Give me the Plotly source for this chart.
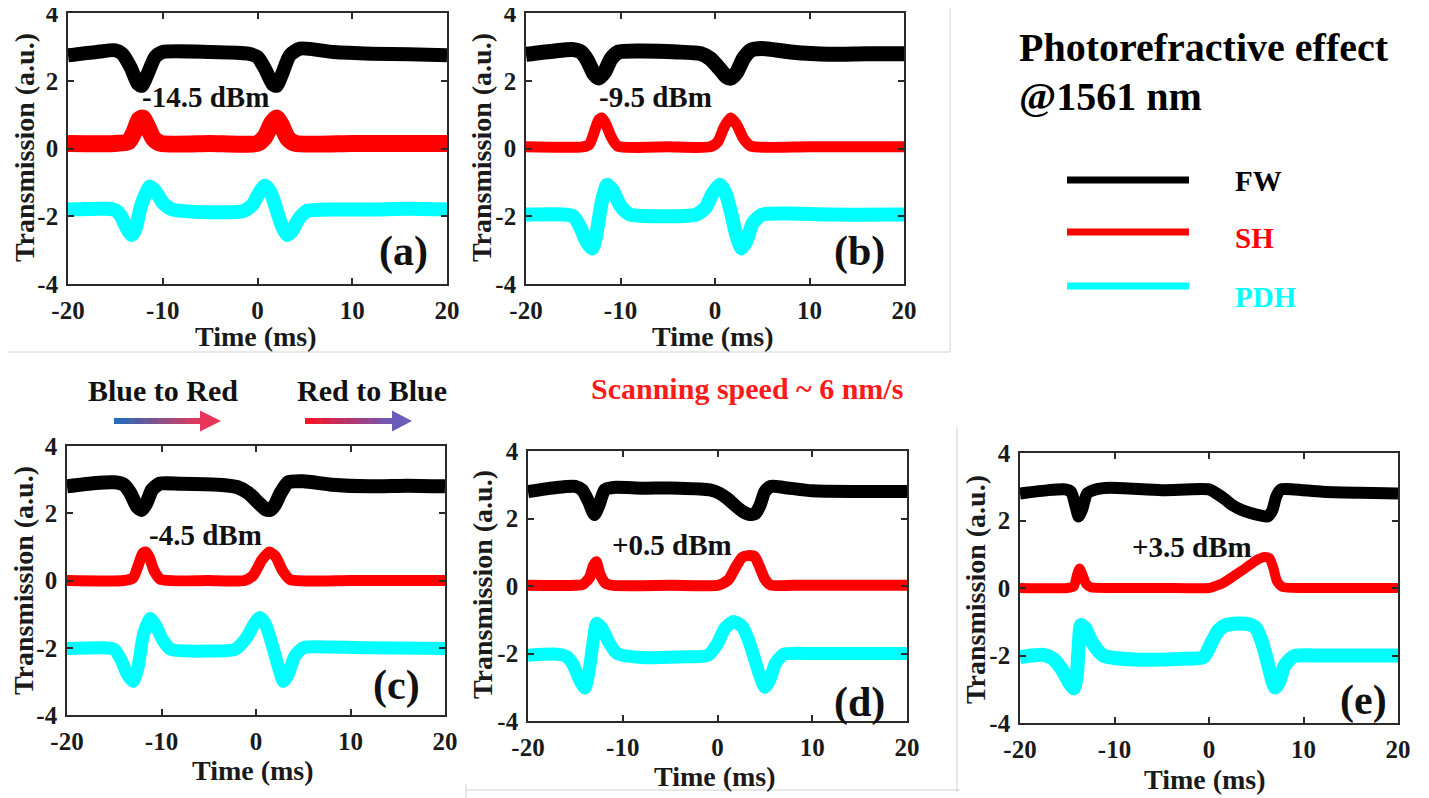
import plotly.graph_objects as go

W, H = 1429, 798
OX, OY = 8, 8   # page body offset of the html page

# ---------------- data ----------------
X_TICKS = [-20, -10, 0, 10, 20]
X_TICKTEXT = ["-20", "-10", "0", "10", "20"]
Y_TICKS = [-4, -2, 0, 2, 4]
Y_TICKTEXT = ["-4", "-2", "0", "2", "4"]

POWER_LABELS = ["-14.5 dBm", "-9.5 dBm", "-4.5 dBm", "+0.5 dBm", "+3.5 dBm"]
PANEL_LABELS = ["(a)", "(b)", "(c)", "(d)", "(e)"]
SERIES_NAMES = ["FW", "SH", "PDH"]

# panel (a)
FW_a_t = [-20, -17, -15, -14.3, -13.4, -12.6, -12.2, -11.6, -10.8, -10, -5, -1, 0, 0.8, 1.6, 2.0, 2.6, 3.4, 4.5, 8, 12, 16, 20]
FW_a_y = [2.75, 2.85, 2.9, 2.8, 2.4, 1.9, 1.85, 2.2, 2.7, 2.85, 2.85, 2.8, 2.7, 2.35, 1.9, 1.85, 2.2, 2.75, 2.95, 2.85, 2.8, 2.78, 2.75]
SH_a_t = [-20, -15, -13.6, -13, -12.5, -12.1, -11.6, -11, -10.2, -5, 0, 0.8, 1.5, 2.0, 2.5, 3.2, 4, 10, 15, 20]
SH_a_y = [0.15, 0.15, 0.2, 0.5, 0.85, 0.9, 0.65, 0.3, 0.15, 0.15, 0.15, 0.35, 0.75, 0.9, 0.7, 0.3, 0.15, 0.15, 0.15, 0.15]
PDH_a_t = [-20, -16, -15, -14.4, -13.8, -13.3, -12.9, -12.3, -11.4, -10.8, -10, -9, -5, -1.5, -0.5, 0.2, 0.8, 1.4, 2.0, 2.6, 3.1, 3.6, 4.3, 5.2, 8, 12, 16, 20]
PDH_a_y = [-1.8, -1.78, -1.82, -2.0, -2.35, -2.55, -2.4, -1.7, -1.12, -1.25, -1.6, -1.8, -1.88, -1.85, -1.65, -1.3, -1.1, -1.3, -1.8, -2.3, -2.55, -2.45, -2.1, -1.85, -1.8, -1.8, -1.78, -1.8]

# panel (b)
FW_b_t = [-20, -17, -15, -14.2, -13.5, -12.8, -12.3, -11.7, -11, -10.2, -8, -4, -1.5, -0.5, 0.5, 1.2, 1.7, 2.3, 3.0, 3.8, 5, 8, 12, 16, 20]
FW_b_y = [2.78, 2.88, 2.92, 2.85, 2.6, 2.2, 2.08, 2.25, 2.65, 2.85, 2.88, 2.85, 2.8, 2.65, 2.35, 2.12, 2.08, 2.25, 2.65, 2.9, 2.95, 2.85, 2.78, 2.8, 2.8]
SH_b_t = [-20, -14, -13.3, -12.7, -12.3, -12.0, -11.6, -11, -10.3, -5, -0.5, 0.3, 1.0, 1.65, 2.3, 3.0, 3.8, 10, 20]
SH_b_y = [0.05, 0.05, 0.12, 0.55, 0.85, 0.9, 0.75, 0.35, 0.07, 0.05, 0.05, 0.2, 0.65, 0.9, 0.7, 0.3, 0.07, 0.05, 0.05]
PDH_b_t = [-20, -16, -15, -14.3, -13.6, -13.0, -12.6, -12.0, -11.4, -10.8, -10, -9, -5, -2, -1, -0.3, 0.5, 1.1, 1.7, 2.3, 2.8, 3.3, 4.0, 5, 8, 12, 20]
PDH_b_y = [-1.95, -1.95, -2.0, -2.3, -2.75, -2.95, -2.6, -1.6, -1.07, -1.25, -1.7, -1.95, -2.0, -1.95, -1.75, -1.35, -1.07, -1.3, -1.9, -2.6, -2.95, -2.75, -2.2, -1.95, -1.92, -1.95, -1.95]

# panel (c)
FW_c_t = [-20, -17, -15, -14, -13.3, -12.6, -12.1, -11.6, -11, -10.2, -8, -4, -2, -0.8, 0.3, 1.0, 1.5, 2.0, 2.6, 3.4, 5, 8, 12, 16, 20]
FW_c_y = [2.8, 2.9, 2.92, 2.85, 2.6, 2.2, 2.1, 2.3, 2.7, 2.88, 2.88, 2.85, 2.78, 2.6, 2.3, 2.12, 2.1, 2.25, 2.6, 2.92, 2.95, 2.85, 2.8, 2.82, 2.8]
SH_c_t = [-20, -14, -13.0, -12.4, -12.0, -11.7, -11.3, -10.8, -10.1, -5, -1.2, -0.3, 0.6, 1.4, 2.1, 2.8, 3.6, 10, 20]
SH_c_y = [0.0, 0.0, 0.08, 0.5, 0.8, 0.85, 0.7, 0.3, 0.03, 0.0, 0.0, 0.15, 0.6, 0.85, 0.7, 0.3, 0.03, 0.0, 0.0]
PDH_c_t = [-20, -16, -15, -14.3, -13.6, -13.0, -12.5, -11.9, -11.2, -10.6, -9.8, -9, -5, -2.2, -1.0, -0.2, 0.4, 1.0, 1.7, 2.4, 2.9, 3.4, 4.1, 5, 8, 12, 20]
PDH_c_y = [-2.02, -2.0, -2.05, -2.35, -2.8, -3.0, -2.6, -1.6, -1.13, -1.35, -1.8, -2.05, -2.1, -2.05, -1.7, -1.3, -1.1, -1.3, -1.9, -2.6, -3.0, -2.8, -2.25, -2.0, -1.98, -2.0, -2.02]

# panel (d)
FW_d_t = [-20, -17, -15, -14.3, -13.6, -13.0, -12.5, -11.9, -11, -8, -4, -0.8, 0.2, 1.0, 1.8, 2.6, 3.4, 4.0, 4.5, 5.0, 5.6, 7, 10, 15, 20]
FW_d_y = [2.8, 2.92, 2.95, 2.85, 2.5, 2.12, 2.4, 2.85, 2.92, 2.9, 2.9, 2.85, 2.75, 2.6, 2.4, 2.22, 2.12, 2.15, 2.4, 2.8, 2.95, 2.92, 2.82, 2.8, 2.8]
SH_d_t = [-20, -15, -14.2, -13.5, -13.1, -12.8, -12.4, -11.8, -11, -5, 0, 0.6, 1.2, 1.9, 2.6, 3.2, 3.9, 4.4, 5.0, 5.6, 8, 15, 20]
SH_d_y = [0.02, 0.02, 0.05, 0.25, 0.6, 0.72, 0.35, 0.08, 0.02, 0.02, 0.02, 0.08, 0.2, 0.55, 0.85, 0.9, 0.88, 0.6, 0.2, 0.03, 0.02, 0.02, 0.02]
PDH_d_t = [-20, -17, -16, -15.3, -14.6, -14.0, -13.6, -13.1, -12.75, -12.2, -11.5, -10.6, -8, -4, -1.0, 0, 0.8, 1.7, 2.6, 3.2, 3.8, 4.4, 5.0, 5.5, 6.1, 7, 10, 15, 20]
PDH_d_y = [-2.05, -2.02, -2.08, -2.3, -2.75, -3.02, -2.6, -1.6, -1.1, -1.25, -1.65, -2.0, -2.12, -2.1, -2.05, -1.7, -1.25, -1.05, -1.2, -1.55, -2.05, -2.6, -3.0, -2.8, -2.3, -2.02, -2.0, -2.0, -2.0]

# panel (e)
FW_e_t = [-20, -17, -15.2, -14.6, -14.1, -13.8, -13.4, -12.9, -12, -10.5, -5, 0, 0.8, 1.6, 2.5, 3.4, 4.4, 5.4, 6.2, 6.7, 7.1, 7.6, 9, 12, 16, 20]
FW_e_y = [2.8, 2.9, 2.92, 2.85, 2.4, 2.12, 2.35, 2.8, 2.92, 2.97, 2.9, 2.92, 2.8, 2.65, 2.45, 2.32, 2.22, 2.15, 2.12, 2.3, 2.7, 2.92, 2.92, 2.85, 2.82, 2.8]
SH_e_t = [-20, -15, -14.3, -14.0, -13.7, -13.4, -13.0, -12.5, -10, -5, 0, 0.6, 1.5, 2.6, 3.5, 4.4, 5.2, 5.9, 6.4, 6.8, 7.2, 7.8, 10, 15, 20]
SH_e_y = [0.0, 0.0, 0.05, 0.35, 0.58, 0.4, 0.12, 0.02, 0.0, 0.0, 0.0, 0.05, 0.15, 0.35, 0.52, 0.7, 0.85, 0.92, 0.88, 0.6, 0.2, 0.03, 0.0, 0.0, 0.0]
PDH_e_t = [-20, -17.5, -16.5, -15.6, -14.8, -14.3, -14.0, -13.8, -13.55, -13.1, -12.4, -11.2, -8, -3, -0.6, 0.3, 1.0, 1.8, 3.0, 4.3, 5.0, 5.6, 6.2, 6.7, 7.0, 7.4, 8.0, 9, 12, 16, 20]
PDH_e_y = [-2.05, -1.98, -2.1, -2.4, -2.8, -2.97, -2.6, -1.8, -1.1, -1.2, -1.6, -2.0, -2.12, -2.1, -2.05, -1.6, -1.25, -1.1, -1.05, -1.08, -1.2, -1.6, -2.2, -2.75, -2.95, -2.8, -2.3, -2.02, -2.0, -2.0, -2.0]

# ---------------- styles / layout ----------------
FONT = "Liberation Serif"
COLORS = {"FW": "#000000", "SH": "#ff0000", "PDH": "#00ffff"}


def P(x):
    return (x - OX) / W


def Q(y):
    return 1 - (y - OY) / H


panels = [
    dict(box=(68, 447, 13, 284), series=[(FW_a_t, FW_a_y, 14), (SH_a_t, SH_a_y, 17), (PDH_a_t, PDH_a_y, 14)],
         power=(-5.5, 1.52), lab=(15.4, -3.05), ytitle=(24, 148), xtitle=(256, 337)),
    dict(box=(526, 904, 13, 284), series=[(FW_b_t, FW_b_y, 15), (SH_b_t, SH_b_y, 11), (PDH_b_t, PDH_b_y, 14)],
         power=(-6.3, 1.52), lab=(15.3, -3.05), ytitle=(481, 148), xtitle=(713, 337)),
    dict(box=(67, 445, 446, 715), series=[(FW_c_t, FW_c_y, 14), (SH_c_t, SH_c_y, 11), (PDH_c_t, PDH_c_y, 13)],
         power=(-5.3, 1.35), lab=(14.9, -3.11), ytitle=(23, 581), xtitle=(253, 770)),
    dict(box=(528, 907, 451, 721), series=[(FW_d_t, FW_d_y, 13), (SH_d_t, SH_d_y, 11), (PDH_d_t, PDH_d_y, 13)],
         power=(-4.8, 1.21), lab=(15.0, -3.44), ytitle=(482, 585), xtitle=(715, 776)),
    dict(box=(1020, 1398, 453, 723), series=[(FW_e_t, FW_e_y, 12), (SH_e_t, SH_e_y, 10), (PDH_e_t, PDH_e_y, 14)],
         power=(-1.8, 1.21), lab=(16.3, -3.32), ytitle=(975, 590), xtitle=(1205, 779)),
]

fig = go.Figure()
annotations = []
shapes = []
layout = dict(width=W, height=H, margin=dict(l=0, r=0, t=0, b=0, pad=0, autoexpand=False),
              paper_bgcolor="white", plot_bgcolor="white", showlegend=False)

axis_common = dict(showgrid=False, zeroline=False, showline=True, linecolor="#2a2a2a", linewidth=1.6,
                   mirror="ticks", ticks="inside", ticklen=6, tickwidth=1.6, tickcolor="#2a2a2a",
                   tickfont=dict(family=FONT, size=25, color="#1a1a1a", weight="bold"),
                   ticklabeloverflow="allow", fixedrange=True, automargin=False)


def txt(x, y, text, size, color="#111", xref="paper", yref="paper", xanchor="center", angle=0):
    return dict(x=x, y=y, xref=xref, yref=yref, text=text, showarrow=False, textangle=angle,
                xanchor=xanchor, yanchor="middle",
                font=dict(family=FONT, size=size, color=color, weight="bold"))


for i, p in enumerate(panels):
    sfx = "" if i == 0 else str(i + 1)
    x0, x1, y0, y1 = p["box"]
    for name, (t, v, w) in zip(SERIES_NAMES, p["series"]):
        fig.add_trace(go.Scatter(x=t, y=v, xaxis="x" + sfx, yaxis="y" + sfx, mode="lines",
                                 line=dict(color=COLORS[name], width=w, shape="spline", smoothing=0.6),
                                 hoverinfo="skip", name=name))
    layout["xaxis" + sfx] = dict(axis_common, domain=[P(x0), P(x1)], anchor="y" + sfx,
                                 range=[-20, 20], tickvals=X_TICKS, ticktext=X_TICKTEXT,
                                 ticklabelstandoff=3)
    layout["yaxis" + sfx] = dict(axis_common, domain=[Q(y1), Q(y0)], anchor="x" + sfx,
                                 range=[-4, 4], tickvals=Y_TICKS, ticktext=Y_TICKTEXT,
                                 ticklabelstandoff=3)
    annotations.append(txt(p["power"][0], p["power"][1], POWER_LABELS[i], 29, xref="x" + sfx, yref="y" + sfx))
    annotations.append(txt(p["lab"][0], p["lab"][1], PANEL_LABELS[i], 42, xref="x" + sfx, yref="y" + sfx))
    annotations.append(txt(P(p["ytitle"][0]), Q(p["ytitle"][1]), "Transmission (a.u.)", 28, "#1a1a1a", angle=-90))
    annotations.append(txt(P(p["xtitle"][0]), Q(p["xtitle"][1]), "Time (ms)", 28, "#1a1a1a"))

# legend-like block on the right
annotations.append(txt(P(1017), Q(47), "Photorefractive effect", 40, "#000", xanchor="left"))
annotations.append(txt(P(1017), Q(97), "@1561 nm", 40, "#000", xanchor="left"))
leg_y = [180, 232, 286]
leg_ty = [181, 238, 297]
for name, ly, ty in zip(SERIES_NAMES, leg_y, leg_ty):
    shapes.append(dict(type="line", xref="paper", yref="paper", x0=P(1067), x1=P(1189),
                       y0=Q(ly), y1=Q(ly), line=dict(color=COLORS[name], width=7)))
    annotations.append(txt(P(1233), Q(ty), name, 29, COLORS[name], xanchor="left"))

# direction labels
annotations.append(txt(P(163), Q(390), "Blue to Red", 30))
annotations.append(txt(P(372), Q(390), "Red to Blue", 30))
annotations.append(txt(P(747), Q(388), "Scanning speed ~ 6 nm/s", 30, "#ff1a1a"))


def gradient_arrow(xs, xh, xe, yc, c0, c1, n=40):
    for k in range(n):
        f = (k + 0.5) / n
        col = "rgb(%d,%d,%d)" % tuple(int(c0[j] + (c1[j] - c0[j]) * f) for j in range(3))
        a = xs + (xh - xs) * k / n
        b = xs + (xh - xs) * (k + 1) / n + 0.6
        shapes.append(dict(type="rect", xref="paper", yref="paper", x0=P(a), x1=P(b),
                           y0=Q(yc + 3), y1=Q(yc - 3), line=dict(width=0), fillcolor=col))
    col = "rgb(%d,%d,%d)" % tuple(c1)
    path = "M %f %f L %f %f L %f %f Z" % (P(xh), Q(yc - 10.5), P(xe), Q(yc), P(xh), Q(yc + 10.5))
    shapes.append(dict(type="path", xref="paper", yref="paper", path=path, fillcolor=col, line=dict(width=0)))


gradient_arrow(114, 200, 221, 421, (26, 110, 192), (232, 54, 90))
gradient_arrow(305, 392, 412, 421, (255, 16, 32), (106, 92, 184))

# faint separators of the composed figure
SEP = "#d2d2d2"
for (a, b, c, d) in [(4, 352, 950, 352), (950, 0, 950, 352), (957, 427, 957, 792),
                     (466, 790, 960, 790), (466, 784, 466, 798)]:
    shapes.append(dict(type="line", xref="paper", yref="paper", x0=P(a), x1=P(c),
                       y0=Q(b), y1=Q(d), line=dict(color=SEP, width=1)))

layout["annotations"] = annotations
layout["shapes"] = shapes
fig.update_layout(**layout)
fig.write_html("out.html")
